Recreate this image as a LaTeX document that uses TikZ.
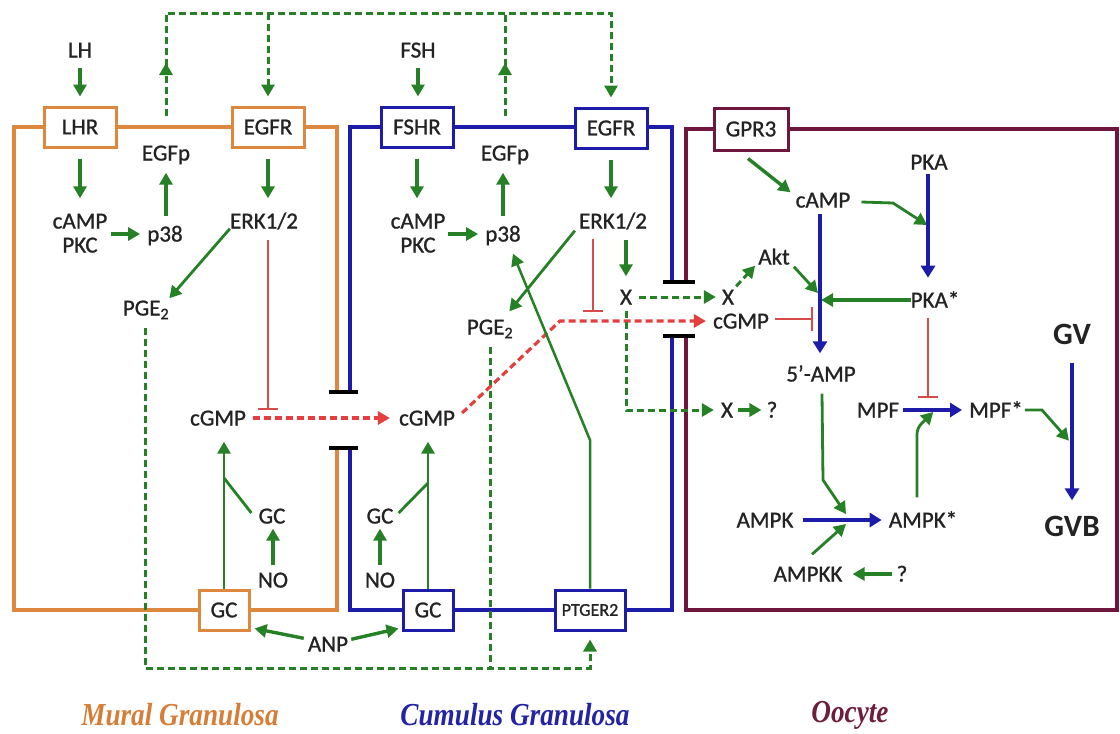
\documentclass[tikz,border=0pt]{standalone}
\usepackage{fontspec}
\setmainfont{Carlito}
\newfontfamily\heavy{Carlito}[FakeBold=1.0,Ligatures=TeX]
\newfontfamily\labfont{Liberation Serif}
\usetikzlibrary{arrows.meta,calc}
\definecolor{orng}{RGB}{222,135,62}
\definecolor{blu}{RGB}{28,28,168}
\definecolor{maro}{RGB}{110,22,62}
\definecolor{grn}{RGB}{38,128,38}
\definecolor{redc}{RGB}{215,75,75}
\definecolor{redd}{RGB}{228,62,62}
\definecolor{labor}{RGB}{214,126,56}
\definecolor{labbl}{RGB}{35,35,165}
\definecolor{labma}{RGB}{110,30,60}
\definecolor{txc}{RGB}{35,35,35}
\tikzset{
  txt/.style={font=\heavy\fontsize{23}{26}\selectfont, text=txc, inner sep=0pt, text height=15pt, text depth=0pt},
  bigtxt/.style={font=\bfseries\fontsize{31}{33}\selectfont, text=txc, inner sep=0pt, text height=19pt, text depth=0pt},
  mbox/.style={draw, line width=3pt, fill=white, minimum width=72pt, minimum height=40pt, inner sep=0pt, text=txc, font=\heavy\fontsize{23}{26}\selectfont},
  ga/.style={draw=grn, line width=3.4pt, -{Triangle[length=12pt,width=13pt]}},
  gl/.style={draw=grn, line width=2.8pt},
  gd/.style={draw=grn, line width=3pt, dash pattern=on 7pt off 4pt, -{Triangle[length=12pt,width=13pt]}},
  gdl/.style={draw=grn, line width=3pt, dash pattern=on 7pt off 4pt},
  ba/.style={draw=blu, line width=3.4pt, -{Triangle[length=12pt,width=14pt]}},
  inh/.style={draw=redc, line width=2.2pt, -{Bar[width=20pt]}},
  rda/.style={draw=redd, line width=3.2pt, dash pattern=on 7pt off 4pt, -{Triangle[length=12pt,width=13pt]}},
  memb/.style={line width=4pt},
  tbar/.style={draw=black, line width=4.5pt},
  lab/.style={font=\labfont\bfseries\itshape\fontsize{32}{34}\selectfont, inner sep=0pt}
}
\begin{document}
\begin{tikzpicture}[x=1pt,y=-1pt]
\fill[white] (0,0) rectangle (1120,734);
\path[use as bounding box] (0,0) rectangle (1120,734);

% membranes
\draw[orng,memb] (337,392) -- (337,127) -- (14,127) -- (14,610) -- (337,610) -- (337,448);
\draw[blu,memb] (350,392) -- (350,127) -- (672,127) -- (672,282);
\draw[blu,memb] (672,336) -- (672,610) -- (350,610) -- (350,448);
\draw[maro,memb] (686,282) -- (686,129) -- (1117,129) -- (1117,610) -- (686,610) -- (686,336);
\draw[tbar] (329,392) -- (358,392);
\draw[tbar] (329,448) -- (358,448);
\draw[tbar] (663,282) -- (695,282);
\draw[tbar] (663,336) -- (695,336);

% mural nodes
\node[txt] (lh) at (80,50) {LH};
\node[mbox,draw=orng] (lhr) at (80,127) {LHR};
\node[mbox,draw=orng] (egfrm) at (268,127) {EGFR};
\node[txt] (egfpm) at (166,153) {EGFp};
\node[txt] (campm) at (80,221) {cAMP};
\node[txt] (pkcm) at (80,245) {PKC};
\node[txt] (p38m) at (165,234) {p38};
\node[txt] (erkm) at (264,221) {ERK1/2};
\node[txt] (pgem) at (146,308) {PGE\textsubscript{2}};
\node[txt] (cgmpm) at (218,418) {cGMP};
\node[txt] (gclm) at (272,516) {GC};
\node[txt] (nom) at (273,580) {NO};
\node[mbox,draw=orng,minimum width=50pt] (gcm) at (224,610) {GC};
\node[txt] (anp) at (328,644) {ANP};

% cumulus nodes
\node[txt] (fsh) at (418,50) {FSH};
\node[mbox,draw=blu] (fshr) at (417,127) {FSHR};
\node[mbox,draw=blu] (egfrc) at (611,128) {EGFR};
\node[txt] (egfpc) at (505,153) {EGFp};
\node[txt] (campc) at (418,221) {cAMP};
\node[txt] (pkcc) at (418,245) {PKC};
\node[txt] (p38c) at (503,234) {p38};
\node[txt] (erkc) at (613,221) {ERK1/2};
\node[txt] (pgec) at (490,327) {PGE\textsubscript{2}};
\node[txt] (cgmpc) at (427,418) {cGMP};
\node[txt] (gclc) at (380,516) {GC};
\node[txt] (noc) at (380,580) {NO};
\node[mbox,draw=blu,minimum width=50pt] (gcc) at (428,610) {GC};
\node[mbox,draw=blu,minimum width=70pt,font=\heavy\fontsize{18}{20}\selectfont] (ptger) at (590,610) {PTGER2};
\node[txt] (xc) at (626,297) {X};
\node[txt] (xo) at (728,297) {X};
\node[txt] (xq) at (727,410) {X};
\node[txt] (q1) at (772,410) {?};

% oocyte nodes
\node[mbox,draw=maro,minimum width=74pt,minimum height=42pt] (gpr3) at (751,129) {GPR3};
\node[txt] (campo) at (823,200) {cAMP};
\node[txt] (pka) at (929,162) {PKA};
\node[txt] (akt) at (774,257) {Akt};
\node[txt] (pkas) at (935,300) {PKA*};
\node[txt] (cgmpo) at (741,321) {cGMP};
\node[txt] (amp5) at (821,374) {5’-AMP};
\node[txt] (mpf) at (878,410) {MPF};
\node[txt] (mpfs) at (996,410) {MPF*};
\node[txt] (ampk) at (765,520) {AMPK};
\node[txt] (ampks) at (923,520) {AMPK*};
\node[txt] (ampkk) at (808,574) {AMPKK};
\node[txt] (q2) at (902,574) {?};
\node[bigtxt] (gv) at (1072,335) {GV};
\node[bigtxt] (gvb) at (1072,527) {GVB};

% labels
\node[lab,text=labor] (lmur) at (180,715) {\scalebox{0.85}[1]{Mural Granulosa}};
\node[lab,text=labbl] (lcum) at (515,715) {\scalebox{0.85}[1]{Cumulus Granulosa}};
\node[lab,text=labma] (looc) at (850,715) {\scalebox{0.85}[1]{Oocyte}};

% coordinates
\coordinate (top) at (0,13);
\coordinate (botL) at (145,668);
\coordinate (rbend) at (560,321);
\coordinate (pbend) at (588,440);
\coordinate (cb) at (893,203);
\coordinate (pkaj) at (927,225);
\coordinate (cj) at (821,300);
\coordinate (ab) at (823,480);
\coordinate (aj) at (846,519);
\coordinate (mb) at (917,428);
\coordinate (mvb) at (1042,410);

% ---- mural connectors
\draw[ga,shorten <=10pt,shorten >=9pt] (lh.south) -- (lh.south |- lhr.north);
\draw[ga,shorten <=10pt,shorten >=15pt] (lhr.south) -- (lhr.south |- campm.north);
\draw[ga] ($(campm.east |- p38m)+(4,0)$) -- ($(p38m.west)+(-7,0)$);
\draw[ga,shorten <=10pt,shorten >=12pt] (egfpm.south |- p38m.north) -- (egfpm.south);
\draw[gd] ($(egfpm.north)+(0,-29)$) -- (egfpm.north |- 0,63);
\draw[gd] (egfpm.north |- 0,66) -- (egfpm.north |- top) -- (egfrc.north |- top) -- ($(egfrc.north)+(0,-9)$);
\draw[gd] (egfrm.north |- top) -- ($(egfrm.north)+(0,-9)$);
\draw[gd] ($(egfpc.north)+(0,-29)$) -- (egfpc.north |- 0,63);
\draw[gdl] (egfpc.north |- 0,66) -- (egfpc.north |- top);
\draw[ga,shorten <=10pt,shorten >=15pt] (egfrm.south) -- (egfrm.south |- erkm.north);
\draw[ga,line width=2.8pt] (erkm.south west) -- ($(pgem.north east)+(0,-2)$);
\draw[gd] ($(pgem.south)+(-1,12)$) -- (botL) -- (ptger.south |- botL) -- ($(ptger.south)+(0,8)$);
\draw[inh] ($(erkm.south)+(4,11)$) -- ($(erkm.south)+(4,181)$);
\draw[rda] ($(cgmpm.east)+(7,0)$) -- ($(cgmpc.west)+(-9,0)$);
\draw[ga,line width=2.8pt,shorten >=16pt] (gcm.north) -- (gcm.north |- cgmpm.south);
\draw[gl] ($(gclm.west)+(-7,-3)$) -- (gcm.north |- 0,478);
\draw[ga,shorten <=7pt,shorten >=5pt] (nom.north) -- (nom.north |- gclm.south);
\draw[ga] ($(anp.north west)+(-4,2)$) -- ($(gcm.south east)+(4,-3)$);
\draw[ga] ($(anp.north east)+(3,3)$) -- ($(gcc.south west)+(-3,-3)$);

% ---- cumulus connectors
\draw[ga,shorten <=10pt,shorten >=9pt] (fsh.south) -- (fsh.south |- fshr.north);
\draw[ga,shorten <=10pt,shorten >=15pt] (fshr.south) -- (fshr.south |- campc.north);
\draw[ga] ($(campc.east |- p38c)+(3,0)$) -- ($(p38c.west)+(-7,0)$);
\draw[ga,shorten <=10pt,shorten >=12pt] (p38c.north) -- (p38c.north |- egfpc.south);
\draw[ga,shorten <=10pt,shorten >=15pt] (egfrc.south) -- (egfrc.south |- erkc.north);
\draw[ga,line width=2.8pt] ($(erkc.south west)+(-4,2)$) -- ($(pgec.north east)+(-4,-8)$);
\draw[gdl] ($(pgec.south)+(0,12)$) -- (pgec.south |- botL);
\draw[inh] ($(erkc.south)+(-20,10)$) -- ($(erkc.south)+(-20,83)$);
\draw[ga,shorten <=11pt,shorten >=13pt] (xc.north |- erkc.south) -- (xc.north);
\draw[gd] ($(xc.east)+(7,0)$) -- ($(xo.west)+(-6,0)$);
\draw[gd] ($(xo.north east)+(2,-3)$) -- ($(akt.south west)+(-3,1)$);
\draw[rda] ($(cgmpc.east)+(7,-5)$) -- (rbend) -- ($(cgmpo.west)+(-7,0)$);
\draw[gd] ($(xc.south)+(0,6)$) -- (xc.south |- xq) -- ($(xq.west)+(-7,0)$);
\draw[ga] ($(xq.east)+(5,0)$) -- ($(q1.west)+(-5,0)$);
\draw[ga,line width=2.5pt] (ptger.north) -- (ptger.north |- pbend) -- ($(p38c.south)+(10,12)$);
\draw[ga,line width=2.8pt,shorten >=16pt] (gcc.north) -- (gcc.north |- cgmpc.south);
\draw[gl] ($(gclc.east)+(5,-3)$) -- (gcc.north |- 0,483);
\draw[ga,shorten <=7pt,shorten >=5pt] (noc.north) -- (noc.north |- gclc.south);

% ---- oocyte connectors
\draw[ga] ($(gpr3.south)+(-3,7)$) -- ($(campo.north west)+(-5,0)$);
\draw[ga,line width=2.8pt] ($(campo.east)+(11,2)$) -- (cb) -- (pkaj);
\draw[ba] ($(pka.south)+(-1,4)$) -- ($(pka.south)+(-1,108)$);
\draw[ga] (pkas.west) -- (cj);
\draw[ga,line width=2.8pt] ($(akt.south east)+(4,2)$) -- ($(cj)+(-3,-7)$);
\draw[ba] ($(campo.south)+(-3,6)$) -- ($(amp5.north)+(-1,-13)$);
\draw[draw=redc,line width=2.2pt,-{Bar[width=24pt]}] ($(cgmpo.east)+(6,-2)$) -- ($(cgmpo.east)+(44,-2)$);
\draw[ga,line width=2.8pt] ($(amp5.south)+(1,12)$) -- (ab) -- ($(aj)+(0,-5)$);
\draw[ba] ($(ampk.east)+(9,0)$) -- ($(ampks.west)+(-7,0)$);
\draw[ga,line width=2.8pt] ($(ampkk.north)+(4,-12)$) -- ($(aj)+(0,5)$);
\draw[ga] ($(q2.west)+(-4,0)$) -- ($(ampkk.east)+(10,0)$);
\draw[ba] ($(mpf.east)+(4,0)$) -- ($(mpfs.west)+(-7,0)$);
\draw[inh] ($(pkas.south)+(-7,10)$) -- ($(pkas.south)+(-7,90)$);
\draw[ga,line width=2.8pt,rounded corners=6pt] ($(ampks.north)+(-6,-15)$) -- (mb) -- ($(mpf.east)+(34,2)$);
\draw[ga,line width=2.8pt] ($(mpfs.east)+(2,0)$) -- (mvb) -- ($(gv.south)+(-3,96)$);
\draw[ba] ($(gv.south)+(0,18)$) -- ($(gvb.north)+(0,-17)$);
\end{tikzpicture}
\end{document}
